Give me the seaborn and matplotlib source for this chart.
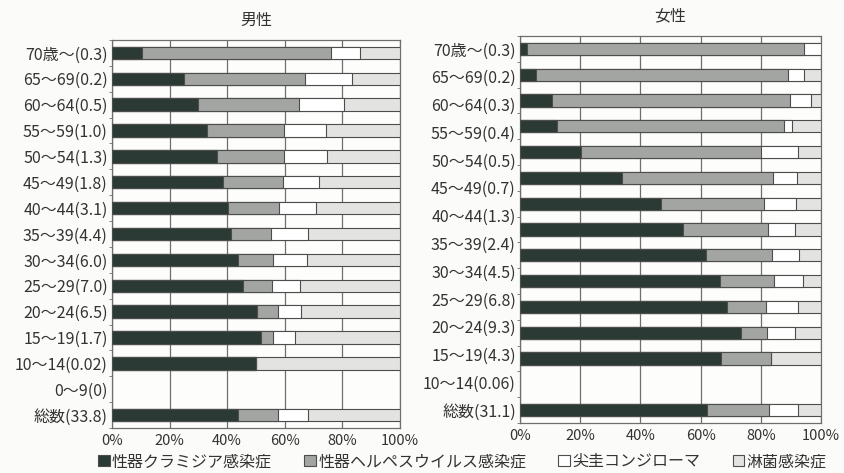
import numpy as np
import pandas as pd
import matplotlib
matplotlib.use("Agg")
import matplotlib.pyplot as plt
from matplotlib.patches import Patch
import seaborn as sns

# Age groups (rows, top to bottom) and rates per 100,000 shown in brackets
male_groups = ["70歳～", "65～69", "60～64", "55～59", "50～54", "45～49", "40～44",
               "35～39", "30～34", "25～29", "20～24", "15～19", "10～14", "0～9", "総数"]
male_rates = ["0.3", "0.2", "0.5", "1.0", "1.3", "1.8", "3.1", "4.4", "6.0", "7.0",
              "6.5", "1.7", "0.02", "0", "33.8"]

female_groups = ["70歳～", "65～69", "60～64", "55～59", "50～54", "45～49", "40～44",
                 "35～39", "30～34", "25～29", "20～24", "15～19", "10～14", "0～9", "総数"]
female_rates = ["0.3", "0.2", "0.3", "0.4", "0.5", "0.7", "1.3", "2.4", "4.5", "6.8",
                "9.3", "4.3", "0.06", None, "31.1"]

series = ["性器クラミジア感染症", "性器ヘルペスウイルス感染症", "尖圭コンジローマ", "淋菌感染症"]

# Share of each disease (%) per age group
male_chlamydia = [10.3, 24.9, 29.7, 33.0, 36.5, 38.4, 40.3, 41.4, 43.9, 45.5, 50.5, 51.9, 50.0, 0, 43.9]
male_herpes = [65.7, 42.0, 35.2, 26.7, 23.2, 21.1, 17.7, 13.7, 12.0, 9.9, 7.0, 4.0, 0, 0, 13.6]
male_condyloma = [10.2, 16.6, 15.7, 14.5, 14.9, 12.4, 12.7, 12.8, 11.7, 9.9, 8.1, 7.6, 0, 0, 10.7]
male_gonorrhea = [13.8, 16.5, 19.4, 25.8, 25.4, 28.1, 29.3, 32.1, 32.4, 34.7, 34.4, 36.5, 50.0, 0, 31.8]

female_chlamydia = [2.2, 5.3, 10.6, 12.3, 20.3, 33.9, 46.7, 54.3, 61.8, 66.6, 68.7, 73.3, 66.7, 0, 62.2]
female_herpes = [92.0, 83.9, 79.2, 75.5, 59.7, 50.0, 34.5, 28.2, 22.0, 17.8, 13.0, 8.9, 16.7, 0, 20.6]
female_condyloma = [5.8, 5.2, 7.0, 2.5, 12.2, 8.1, 10.6, 8.9, 8.9, 9.7, 10.5, 9.3, 0, 0, 9.6]
female_gonorrhea = [0.0, 5.6, 3.2, 9.7, 7.8, 8.0, 8.2, 8.6, 7.3, 5.9, 7.8, 8.5, 16.6, 0, 7.6]

colors = ["#2c3a35", "#a2a5a2", "#ffffff", "#e3e3e1"]
edge = "#4d4d4d"
text_color = "#333333"

sns.set_style("white")
plt.rcParams["font.family"] = ["Noto Sans CJK JP", "DejaVu Sans"]

fig = plt.figure(figsize=(8.45, 4.73), dpi=100, facecolor="#fbfbf9")
ax_m = fig.add_axes([0.1325, 0.0951, 0.3409, 0.8203])
ax_f = fig.add_axes([0.6154, 0.1057, 0.3562, 0.8182])


def draw_panel(ax, groups, parts, title):
    df = pd.DataFrame(dict(zip(series, parts)))
    df["group"] = groups
    cum = df[series].cumsum(axis=1)
    # stacked bars: draw the running totals from the longest to the shortest
    for name, col in reversed(list(zip(series, colors))):
        sns.barplot(x=cum[name].values, y=df["group"], order=groups, orient="h",
                    color=col, saturation=1, width=0.48, edgecolor=edge,
                    linewidth=0.8, errorbar=None, ax=ax, zorder=3)
    for p in ax.patches:
        if p.get_width() <= 0:
            p.set_visible(False)
    ax.set_facecolor("#fdfdfc")
    ax.set_xlim(0, 100)
    ax.set_ylim(len(groups) - 0.5, -0.5)
    ax.set_xticks([0, 20, 40, 60, 80, 100])
    ax.set_xticklabels([f"{v}%" for v in [0, 20, 40, 60, 80, 100]])
    ax.xaxis.grid(True, color="#6e6e6e", linewidth=0.9, zorder=0)
    ax.set_axisbelow(True)
    ax.set_xlabel("")
    ax.set_ylabel("")
    for s in ax.spines.values():
        s.set_color("#6e6e6e")
        s.set_linewidth(0.9)
    ax.set_yticks(np.arange(-0.5, len(groups)), minor=True)
    ax.tick_params(axis="y", which="minor", length=2.5, color="#6e6e6e", left=True)
    ax.tick_params(axis="y", which="major", length=0, pad=3, labelsize=11.5,
                   labelcolor=text_color)
    ax.tick_params(axis="x", length=0, pad=4, labelsize=10.5, labelcolor=text_color)
    ax.set_title(title, fontsize=11.5, color=text_color, pad=11)


draw_panel(ax_m, male_groups,
           [male_chlamydia, male_herpes, male_condyloma, male_gonorrhea], "男性")
ax_m.set_yticks(np.arange(len(male_groups)))
ax_m.set_yticklabels([f"{g}({r})" for g, r in zip(male_groups, male_rates)])

draw_panel(ax_f, female_groups,
           [female_chlamydia, female_herpes, female_condyloma, female_gonorrhea], "女性")
f_labels = [f"{g}({r})" for g, r in zip(female_groups, female_rates) if r is not None]
ax_f.set_yticks(np.linspace(0, len(female_groups) - 1, len(f_labels)))
ax_f.set_yticklabels(f_labels)

handles = [Patch(facecolor=c, edgecolor=edge, linewidth=0.8) for c in colors]
fig.legend(handles, series, loc="center", bbox_to_anchor=(0.547, 0.024), ncol=4,
           frameon=False, fontsize=11.5, handlelength=0.75, handleheight=0.75,
           handletextpad=0.15, columnspacing=2.0, labelcolor=text_color)

fig.savefig("out.png", dpi=100, facecolor=fig.get_facecolor())
